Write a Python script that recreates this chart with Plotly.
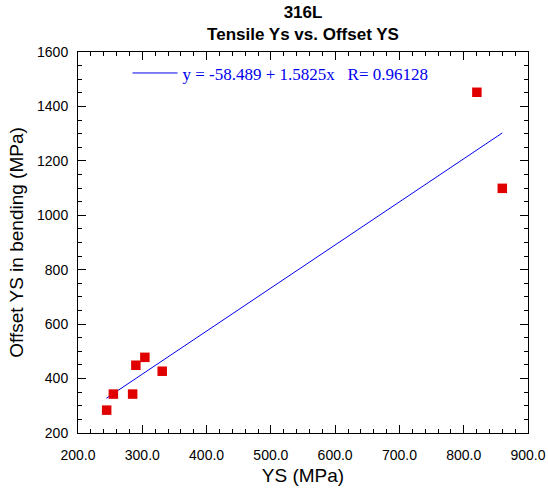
import plotly.graph_objects as go

# Data
ys_mpa = [244.6, 255, 285, 290, 304, 331, 820.5, 860]
offset_ys = [284, 343, 343, 449, 478, 427, 1452, 1099]
fit_x = [244, 860]
fit_y = [327.6, 1302.5]
fit_label = "y = -58.489 + 1.5825x   R= 0.96128"

fig = go.Figure()
fig.add_trace(go.Scatter(
    x=fit_x, y=fit_y, mode="lines", name=fit_label,
    line=dict(color="#0000ee", width=1), showlegend=True,
))
fig.add_trace(go.Scatter(
    x=ys_mpa, y=offset_ys, mode="markers", name="data",
    marker=dict(symbol="square", size=9.5, color="#e00000", line=dict(width=0)),
    showlegend=False,
))

axis_common = dict(
    showgrid=False, zeroline=False, showline=True, linecolor="black", linewidth=1,
    mirror="allticks", ticks="inside", ticklen=8, tickcolor="black", tickwidth=1,
    tickfont=dict(family="Liberation Sans, Arial", size=14, color="black"),
    automargin=False,
)

fig.update_layout(
    width=548, height=490,
    margin=dict(l=78, r=20, t=52, b=57),
    paper_bgcolor="white", plot_bgcolor="white",
    title=dict(
        text="<b>316L</b><br><b>Tensile Ys vs. Offset YS</b>",
        x=0.5, xanchor="center", xref="paper", y=1 - 18 / 490, yanchor="middle",
        font=dict(family="Liberation Sans, Arial", size=17, color="black"),
        automargin=False,
    ),
    xaxis=dict(
        range=[200, 900], dtick=100, tickformat=".1f",
        minor=dict(dtick=20, ticks="inside", ticklen=4, tickcolor="black"),
        ticklabelstandoff=9,
        title=dict(text="YS (MPa)", font=dict(family="Liberation Sans, Arial", size=19, color="black"), standoff=6),
        **axis_common,
    ),
    yaxis=dict(
        range=[200, 1600], dtick=200,
        minor=dict(dtick=50, ticks="inside", ticklen=4, tickcolor="black"),
        ticklabelstandoff=6,
        title=dict(text="Offset YS in bending (MPa)", font=dict(family="Liberation Sans, Arial", size=19, color="black"), standoff=8),
        **axis_common,
    ),
    legend=dict(
        x=0.11, y=0.991, xanchor="left", yanchor="top",
        bgcolor="rgba(0,0,0,0)", itemwidth=45,
        font=dict(family="Liberation Serif, Times New Roman", size=17, color="#0000ee"),
    ),
)

fig.write_html("out.html")
